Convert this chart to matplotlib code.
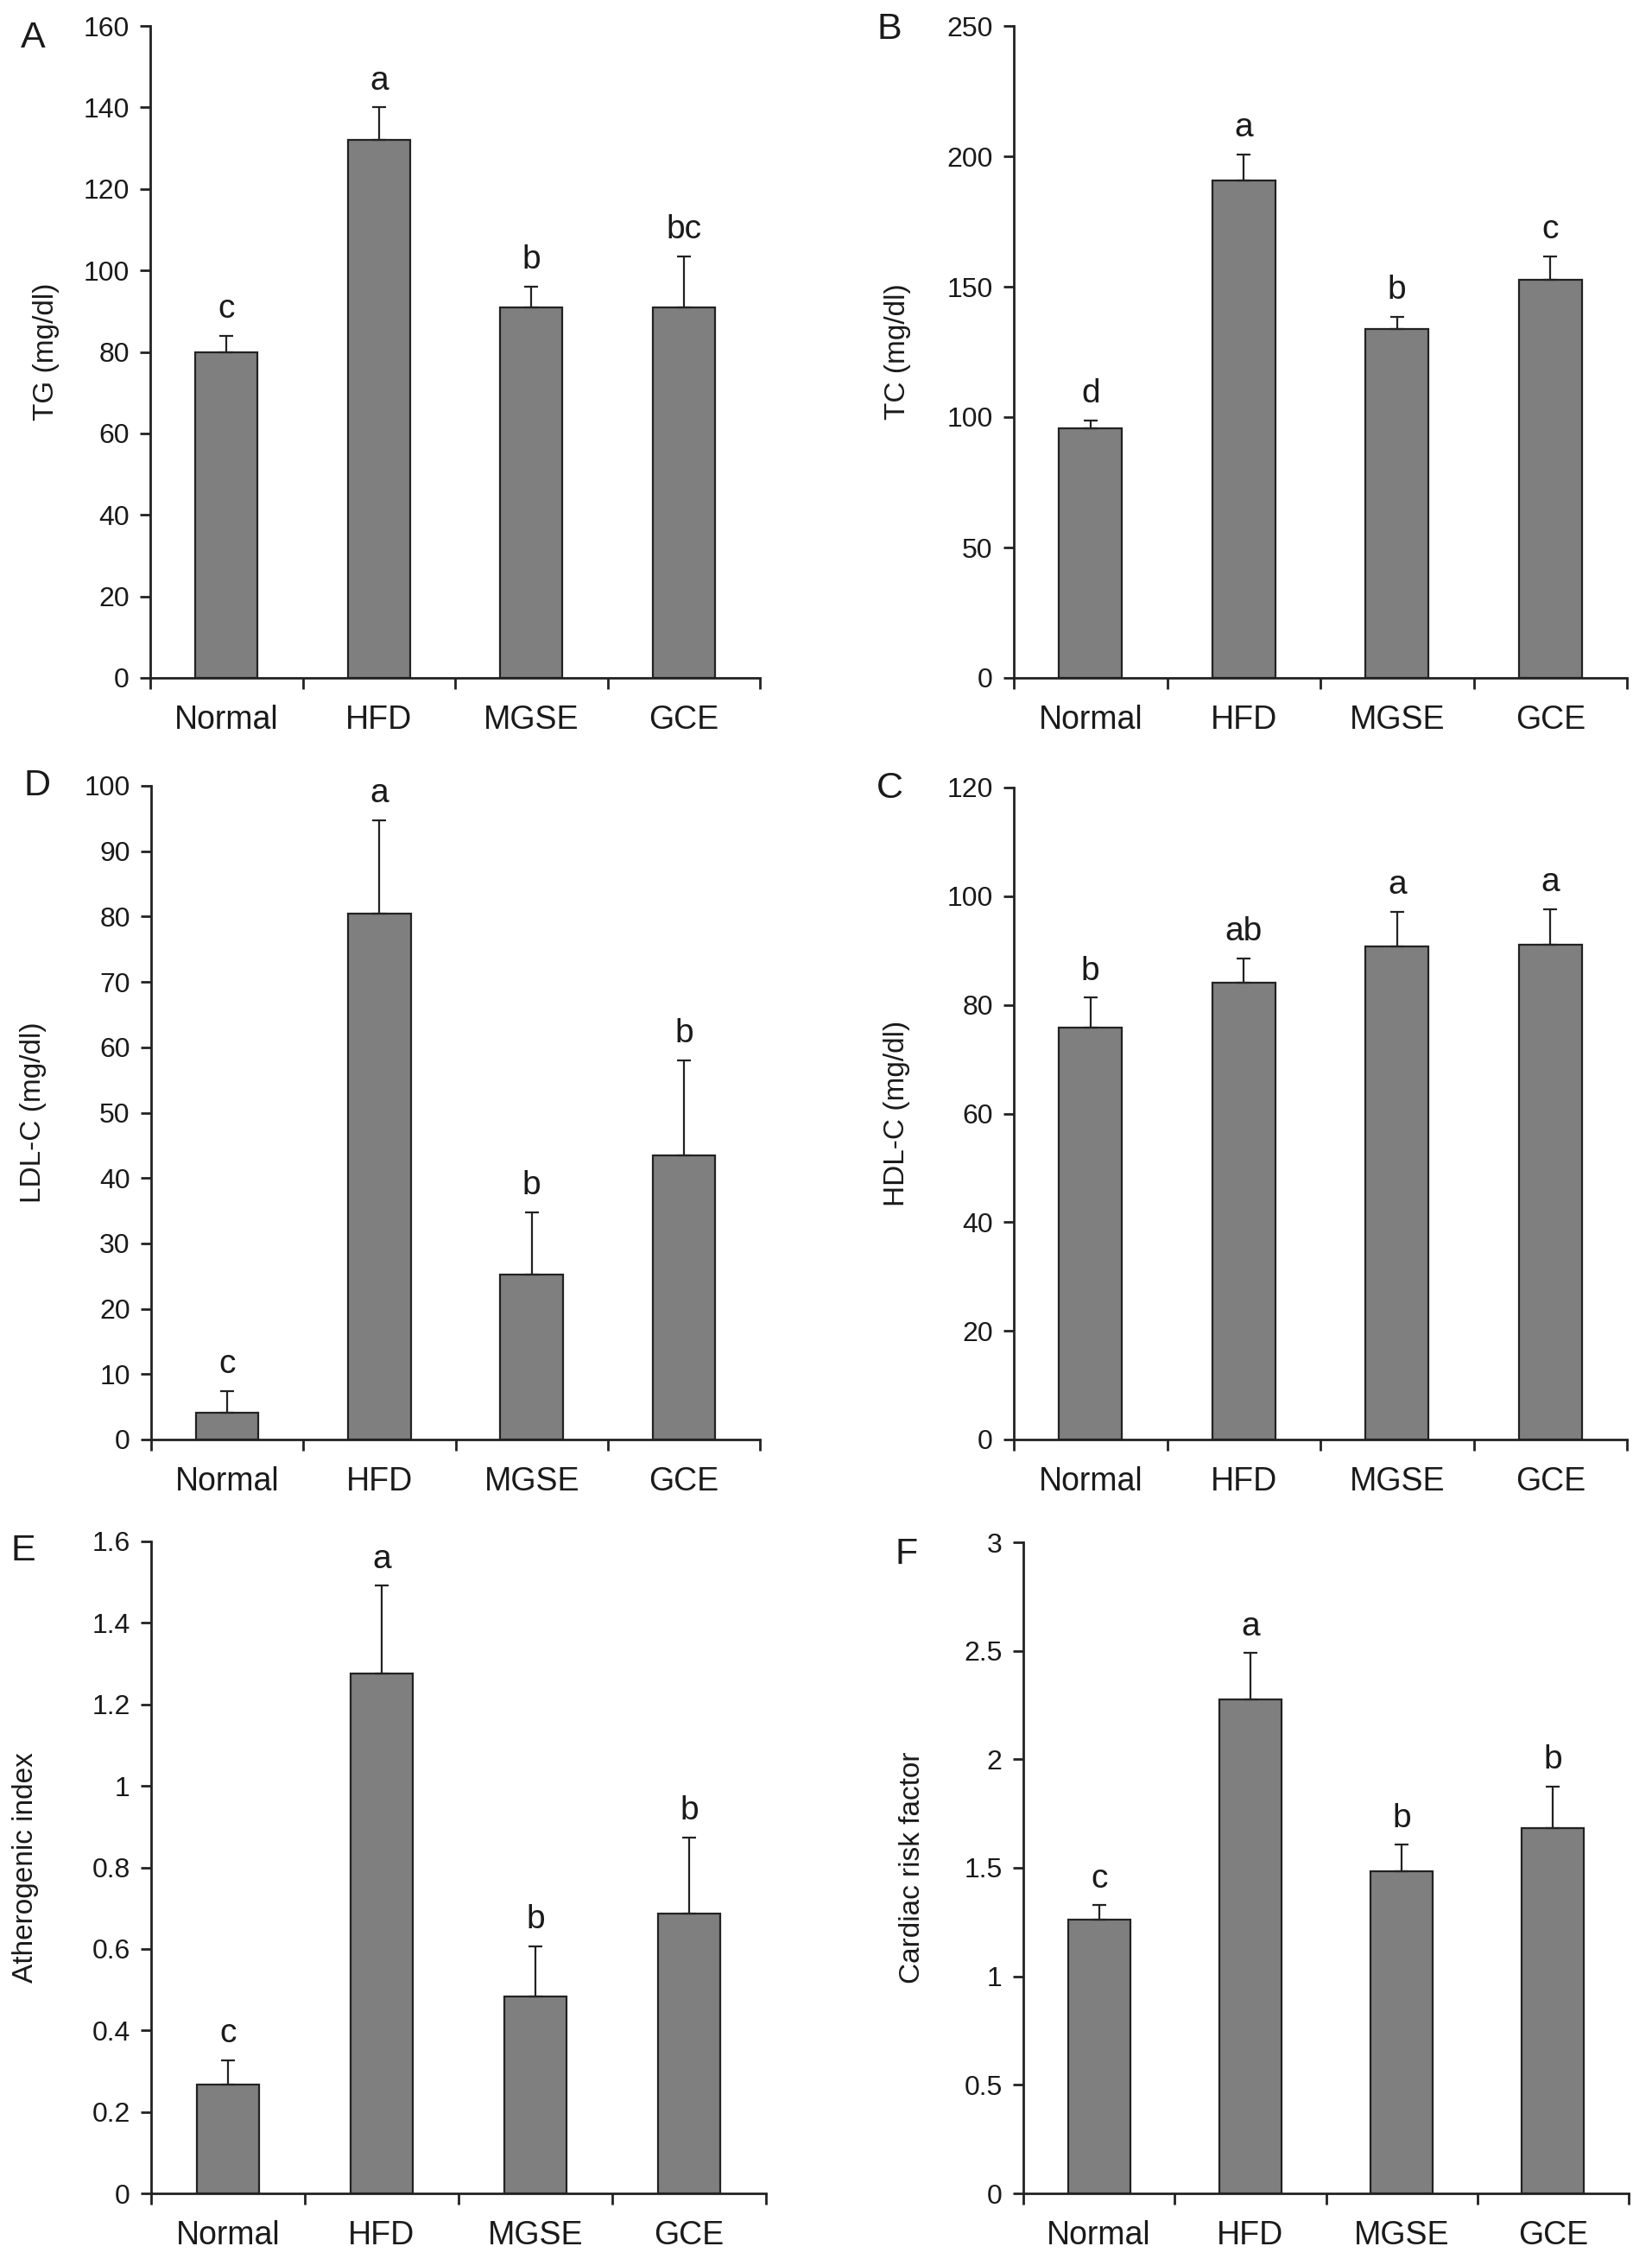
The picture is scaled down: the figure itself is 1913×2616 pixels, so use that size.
import matplotlib
matplotlib.use("Agg")
import matplotlib.pyplot as plt
from matplotlib.ticker import FuncFormatter

plt.rcParams['font.family'] = ['Liberation Sans', 'DejaVu Sans']

groups = ['Normal', 'HFD', 'MGSE', 'GCE']

tg_mean = [80, 132, 91, 91]
tg_err = [4, 8, 5, 12.5]
tg_letters = ['c', 'a', 'b', 'bc']

tc_mean = [95.7, 190.6, 133.9, 152.5]
tc_err = [3, 10, 4.5, 9]
tc_letters = ['d', 'a', 'b', 'c']

ldl_mean = [4.1, 80.4, 25.2, 43.5]
ldl_err = [3.3, 14.3, 9.6, 14.5]
ldl_letters = ['c', 'a', 'b', 'b']

hdl_mean = [75.8, 84.1, 90.7, 91.1]
hdl_err = [5.5, 4.4, 6.4, 6.5]
hdl_letters = ['b', 'ab', 'a', 'a']

ai_mean = [0.266, 1.276, 0.483, 0.687]
ai_err = [0.061, 0.215, 0.123, 0.187]
ai_letters = ['c', 'a', 'b', 'b']

crf_mean = [1.262, 2.275, 1.483, 1.685]
crf_err = [0.065, 0.214, 0.123, 0.188]
crf_letters = ['c', 'a', 'b', 'b']

W, H = 1913, 2616
fig = plt.figure(figsize=(W / 100, H / 100), dpi=100)

text_color = '#1a1a1a'
line_color = '#222222'


def panel(box, means, errs, letters, ylabel, ymax, ystep, letter, letter_xy, ylabel_x):
    # box in pixels: left, top, right, bottom
    l, t, r, b = box
    ax = fig.add_axes([l / W, 1 - b / H, (r - l) / W, (b - t) / H])
    x = [i + 0.5 for i in range(len(groups))]
    ax.bar(x, means, width=0.41, color='#7f7f7f', edgecolor=line_color, linewidth=1.6, zorder=2)
    ax.errorbar(x, means, yerr=[[0] * len(errs), errs], fmt='none', ecolor=line_color,
                elinewidth=1.6, capsize=5.5, capthick=1.6, zorder=3)
    for xi, m, e, s in zip(x, means, errs, letters):
        ax.annotate(s, (xi, m + e), xytext=(0, 15), textcoords='offset points',
                    ha='center', va='baseline', fontsize=28, color=text_color)

    ax.set_xlim(0, 4)
    ax.set_ylim(0, ymax)
    n = int(round(ymax / ystep))
    ax.set_yticks([ystep * i for i in range(n + 1)])
    ax.yaxis.set_major_formatter(FuncFormatter(lambda v, p: f'{v:g}'))
    ax.set_xticks([0, 1, 2, 3, 4])
    ax.set_xticklabels([])
    ax.set_xticks(x, minor=True)
    ax.set_xticklabels(groups, minor=True)
    ax.tick_params(axis='x', which='major', direction='out', length=9, width=2, color=line_color)
    ax.tick_params(axis='x', which='minor', length=0, pad=22, labelsize=27, labelcolor=text_color)
    ax.tick_params(axis='y', direction='out', length=8.5, width=2, pad=9, labelsize=23,
                   color=line_color, labelcolor=text_color)
    for side in ['top', 'right']:
        ax.spines[side].set_visible(False)
    for side in ['left', 'bottom']:
        ax.spines[side].set_linewidth(2.0)
        ax.spines[side].set_color(line_color)

    ax.text(ylabel_x, 0.5, ylabel, transform=ax.transAxes, rotation=90,
            ha='center', va='center', fontsize=24, color=text_color)
    fig.text(letter_xy[0] / W, 1 - letter_xy[1] / H, letter, fontsize=31,
             ha='center', va='center', color=text_color)
    return ax


panel((174, 30, 880, 785), tg_mean, tg_err, tg_letters, 'TG (mg/dl)', 160, 20,
      'A', (38, 44), -0.171)
panel((1174, 30, 1884, 785), tc_mean, tc_err, tc_letters, 'TC (mg/dl)', 250, 50,
      'B', (1030, 34), -0.189)
panel((175, 910, 880, 1667), ldl_mean, ldl_err, ldl_letters, 'LDL-C (mg/dl)', 100, 10,
      'D', (43, 910), -0.193)
panel((1174, 912, 1884, 1667), hdl_mean, hdl_err, hdl_letters, 'HDL-C (mg/dl)', 120, 20,
      'C', (1030, 913), -0.191)
panel((175, 1785, 887, 2540), ai_mean, ai_err, ai_letters, 'Atherogenic index', 1.6, 0.2,
      'E', (27, 1796), -0.205)
panel((1185, 1786, 1886, 2540), crf_mean, crf_err, crf_letters, 'Cardiac risk factor', 3, 0.5,
      'F', (1050, 1800), -0.184)

fig.savefig('out.png', dpi=100, facecolor='white')
